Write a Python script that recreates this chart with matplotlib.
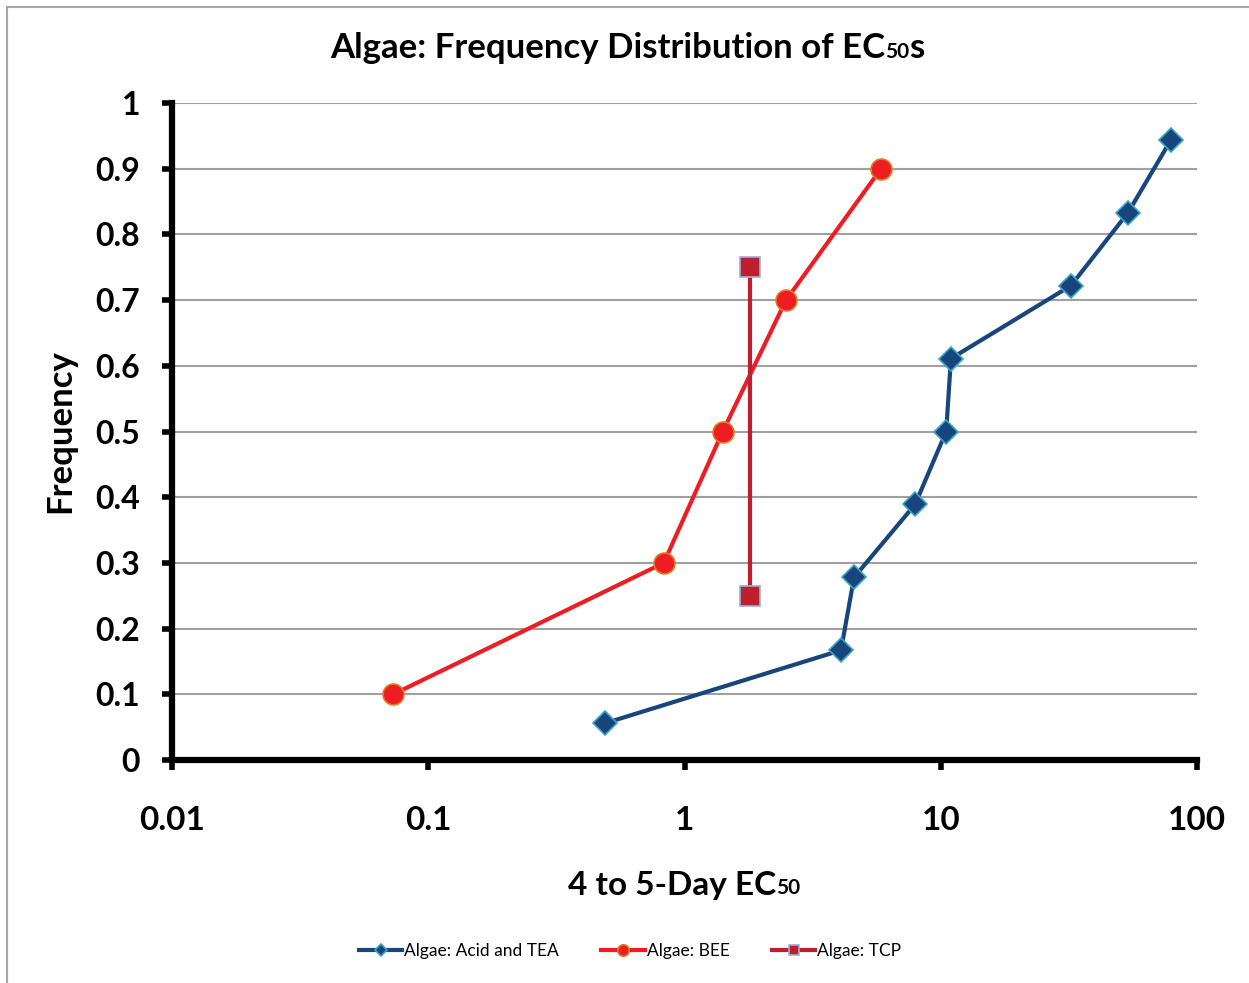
import numpy as np
import matplotlib
matplotlib.use("Agg")
import matplotlib.pyplot as plt
from matplotlib.offsetbox import TextArea, HPacker, AnchoredOffsetbox
from matplotlib.patches import Rectangle

plt.rcParams['font.family'] = ['Lato', 'DejaVu Sans']

# EC50 values (mg/L) and plotting-position frequencies per group
acid_tea_ec50 = [0.49, 4.08, 4.59, 7.94, 10.5, 10.96, 32.2, 53.8, 79.2]
acid_tea_freq = [0.056, 0.167, 0.278, 0.389, 0.5, 0.611, 0.722, 0.833, 0.944]

bee_ec50 = [0.073, 0.83, 1.41, 2.49, 5.85]
bee_freq = [0.1, 0.3, 0.5, 0.7, 0.9]

tcp_ec50 = [1.8, 1.8]
tcp_freq = [0.25, 0.75]

x_ticks = [0.01, 0.1, 1, 10, 100]
x_tick_labels = ['0.01', '0.1', '1', '10', '100']
y_ticks = [0, 0.1, 0.2, 0.3, 0.4, 0.5, 0.6, 0.7, 0.8, 0.9, 1]
y_tick_labels = ['0', '0.1', '0.2', '0.3', '0.4', '0.5', '0.6', '0.7', '0.8', '0.9', '1']

W, H = 1249, 983
fig = plt.figure(figsize=(W / 100, H / 100), dpi=100)
ax = fig.add_axes([172 / W, 1 - 760 / H, (1197 - 172) / W, (760 - 103) / H])

# outer chart border (left and top edges visible)
fig.patches.append(Rectangle((7 / W, -0.05), 1.2, 1 - 7 / H + 0.05, transform=fig.transFigure,
                             fill=False, edgecolor='#a6a6a6', linewidth=1.5))

ax.plot(acid_tea_ec50, acid_tea_freq, color='#17457c', linewidth=3, marker='D', markersize=12,
        markerfacecolor='#17457c', markeredgecolor='#3aa5c4', markeredgewidth=1.2,
        label='Algae: Acid and TEA', zorder=4)
ax.plot(bee_ec50, bee_freq, color='#ee1d24', linewidth=3, marker='o', markersize=15,
        markerfacecolor='#ee1d24', markeredgecolor='#e07a1f', markeredgewidth=1.2,
        label='Algae: BEE', zorder=3)
ax.plot(tcp_ec50, tcp_freq, color='#be1e2d', linewidth=3, marker='s', markersize=14,
        markerfacecolor='#be1e2d', markeredgecolor='#95b3d7', markeredgewidth=1.2,
        label='Algae: TCP', zorder=3)

ax.set_xscale('log')
ax.set_xlim(0.01, 100)
ax.set_ylim(0, 1)
ax.set_xticks(x_ticks)
ax.set_xticklabels(x_tick_labels)
ax.minorticks_off()
ax.set_yticks(y_ticks)
ax.set_yticklabels(y_tick_labels)

ax.yaxis.grid(True, color='#a0a0a0', linewidth=1.5)
ax.set_axisbelow(True)
for s in ['top', 'right']:
    ax.spines[s].set_visible(False)
for s in ['left', 'bottom']:
    ax.spines[s].set_linewidth(4.5)
    ax.spines[s].set_color('black')
    ax.spines[s].set_capstyle('projecting')

ax.tick_params(axis='y', direction='out', length=7, width=4, pad=16, labelsize=23)
ax.tick_params(axis='x', direction='out', length=7, width=4, pad=26, labelsize=24)
for lbl in ax.get_xticklabels() + ax.get_yticklabels():
    lbl.set_fontweight('bold')

ax.set_ylabel('Frequency', fontsize=25, fontweight='bold', labelpad=14)


def mixed_text(parts, x, y):
    # text pieces of different sizes sharing one baseline
    boxes = [TextArea(t, textprops=dict(fontsize=fs, fontweight='bold', color='black'))
             for t, fs in parts]
    pack = HPacker(children=boxes, align='baseline', pad=0, sep=0)
    anchored = AnchoredOffsetbox(loc='center', child=pack, pad=0, borderpad=0, frameon=False,
                                 bbox_to_anchor=(x, y), bbox_transform=fig.transFigure)
    fig.add_artist(anchored)


mixed_text([('Algae: Frequency Distribution of EC', 25), ('50', 15), ('s', 25)], 627 / W, 1 - 48 / H)
mixed_text([('4 to 5-Day EC', 24), ('50', 15)], 684 / W, 1 - 885 / H)

fig.legend(loc='center', bbox_to_anchor=(630 / W, 1 - 951 / H), ncol=3, frameon=False,
           fontsize=12.5, handlelength=2.5, handletextpad=0.1, columnspacing=2.45, markerscale=0.55)

fig.savefig('out.png', dpi=100)
